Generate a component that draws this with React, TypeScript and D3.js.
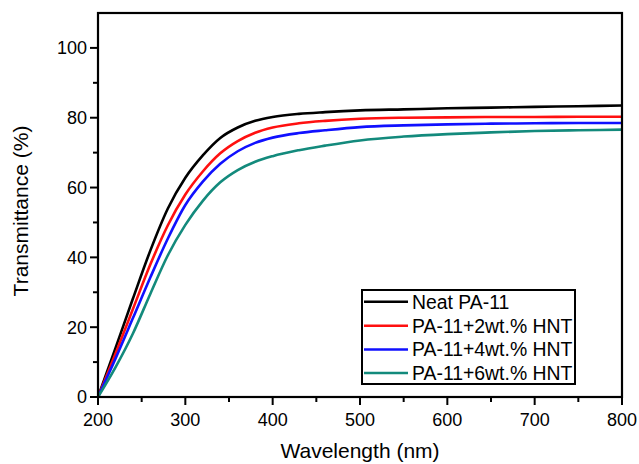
import React from "react";
import * as d3 from "d3";

const wavelengths = [200, 220, 240, 260, 280, 300, 320, 340, 360, 380, 400, 430, 460, 500, 550, 600, 650, 700, 750, 800];
const neat = [0, 14, 28.2, 42, 54, 62.8, 69.2, 74.2, 77.2, 79.1, 80.2, 81.1, 81.6, 82.1, 82.4, 82.7, 82.9, 83.1, 83.3, 83.5];
const hnt2 = [0, 12.4, 25.2, 38, 49.2, 58, 64.6, 69.8, 73.3, 75.7, 77.2, 78.4, 79.1, 79.7, 80.0, 80.1, 80.2, 80.2, 80.3, 80.3];
const hnt4 = [0, 11, 22.6, 34.3, 45.4, 55, 61.7, 66.8, 70.4, 72.8, 74.3, 75.6, 76.4, 77.3, 77.8, 78.1, 78.3, 78.4, 78.5, 78.5];
const hnt6 = [0, 8.5, 18.2, 29.6, 40.6, 49.3, 56.2, 61.5, 65, 67.4, 69, 70.7, 72, 73.5, 74.6, 75.3, 75.8, 76.2, 76.4, 76.6];

const seriesNames = ["Neat PA-11", "PA-11+2wt.% HNT", "PA-11+4wt.% HNT", "PA-11+6wt.% HNT"];
const seriesValues = [neat, hnt2, hnt4, hnt6];
const seriesColors = ["#000000", "#ff1010", "#1010ff", "#138a7c"];

const xTicks = [200, 300, 400, 500, 600, 700, 800];
const xMinor = [250, 350, 450, 550, 650, 750];
const yTicks = [0, 20, 40, 60, 80, 100];
const yMinor = [10, 30, 50, 70, 90];

const W = 639;
const H = 464;
const left = 98;
const right = 622;
const top = 13;
const bottom = 397;
const FONT = "Liberation Sans, Arial, sans-serif";

export default function App() {
  const x = d3.scaleLinear().domain([200, 800]).range([left, right]);
  const y = d3.scaleLinear().domain([0, 110]).range([bottom, top]);
  const line = d3
    .line<number>()
    .x((_, i) => x(wavelengths[i]))
    .y((d) => y(d))
    .curve(d3.curveMonotoneX);

  const legX = 362;
  const legY = 290;
  const legW = 213;
  const legH = 94;
  const rowY = [301.7, 325.7, 349.5, 373];

  return (
    <svg
      width={W}
      height={H}
      style={{ position: "absolute", left: 0, top: 0, background: "#fff" }}
      fontFamily={FONT}
    >
      <rect x={0} y={0} width={W} height={H} fill="#fff" />
      {seriesValues.map((vals, i) => (
        <path key={i} d={line(vals) || ""} fill="none" stroke={seriesColors[i]} strokeWidth={2.6} strokeLinejoin="round" />
      ))}
      {/* frame */}
      <rect x={left} y={top} width={right - left} height={bottom - top} fill="none" stroke="#000" strokeWidth={2.2} />
      {/* y ticks */}
      {yTicks.map((t) => (
        <g key={"y" + t}>
          <line x1={left - 8} x2={left} y1={y(t)} y2={y(t)} stroke="#000" strokeWidth={2} />
          <text x={left - 11} y={y(t)} dy="0.36em" textAnchor="end" fontSize={18}>
            {t}
          </text>
        </g>
      ))}
      {yMinor.map((t) => (
        <line key={"ym" + t} x1={left - 5} x2={left} y1={y(t)} y2={y(t)} stroke="#000" strokeWidth={2} />
      ))}
      {/* x ticks */}
      {xTicks.map((t) => (
        <g key={"x" + t}>
          <line x1={x(t)} x2={x(t)} y1={bottom} y2={bottom + 8} stroke="#000" strokeWidth={2} />
          <text x={x(t)} y={426} textAnchor="middle" fontSize={18}>
            {t}
          </text>
        </g>
      ))}
      {xMinor.map((t) => (
        <line key={"xm" + t} x1={x(t)} x2={x(t)} y1={bottom} y2={bottom + 5} stroke="#000" strokeWidth={2} />
      ))}
      <text x={(left + right) / 2} y={458} textAnchor="middle" fontSize={21}>
        Wavelength (nm)
      </text>
      <text
        transform={`translate(28, ${(top + bottom) / 2 + 6}) rotate(-90)`}
        textAnchor="middle"
        fontSize={21}
      >
        Transmittance (%)
      </text>
      {/* legend */}
      <rect x={legX} y={legY} width={legW} height={legH} fill="#fff" stroke="#000" strokeWidth={2} />
      {seriesNames.map((n, i) => (
        <g key={n}>
          <line x1={legX + 2} x2={legX + 46} y1={rowY[i]} y2={rowY[i]} stroke={seriesColors[i]} strokeWidth={2.6} />
          <text x={legX + 50} y={rowY[i]} dy="0.36em" fontSize={19.4}>
            {n}
          </text>
        </g>
      ))}
    </svg>
  );
}
